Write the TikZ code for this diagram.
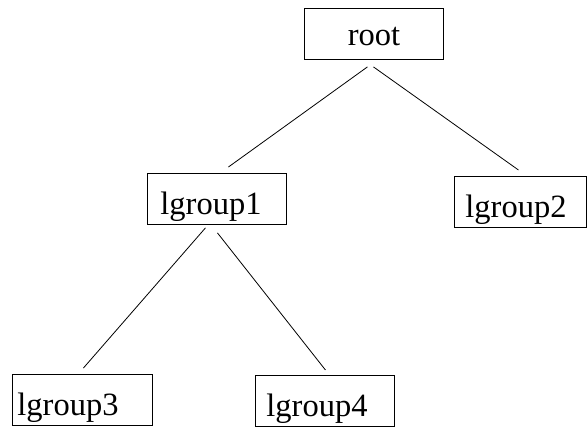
\documentclass[tikz,border=0pt]{standalone}
\usepackage{fontspec}
\setmainfont{Liberation Serif}
\begin{document}
\begin{tikzpicture}[x=1pt,y=-1pt,
  box/.style={draw, line width=0.9pt, anchor=north west, inner ysep=0pt,
    font=\fontsize{32.5}{38}\selectfont, text height=41pt, text depth=10pt, align=left},
  edge/.style={line width=0.8pt}]
\useasboundingbox (0,0) rectangle (587,427);
\node[box, inner xsep=0pt, text width=139pt, align=center, text height=37pt, text depth=14pt] (root) at (304,8) {root\hspace*{6pt}};
\node[box, inner xsep=13pt, text width=113pt] (g1) at (147,173) {lgroup1};
\node[box, inner xsep=11pt, text width=110pt] (g2) at (454,176) {lgroup2};
\node[box, inner xsep=5pt, text width=130pt] (g3) at (12,374) {lgroup3};
\node[box, inner xsep=11pt, text width=117pt] (g4) at (255,375) {lgroup4};
\draw[edge] ([xshift=-6.5pt,yshift=-7pt]root.south) -- ([xshift=11.5pt,yshift=6pt]g1.north);
\draw[edge] ([xshift=-0.5pt,yshift=-7pt]root.south) -- ([xshift=-2pt,yshift=6pt]g2.north);
\draw[edge] ([xshift=-11.5pt,yshift=-3pt]g1.south) -- ([xshift=1pt,yshift=6pt]g3.north);
\draw[edge] ([xshift=0.5pt,yshift=-8pt]g1.south) -- ([xshift=0.5pt,yshift=5pt]g4.north);
\end{tikzpicture}
\end{document}
